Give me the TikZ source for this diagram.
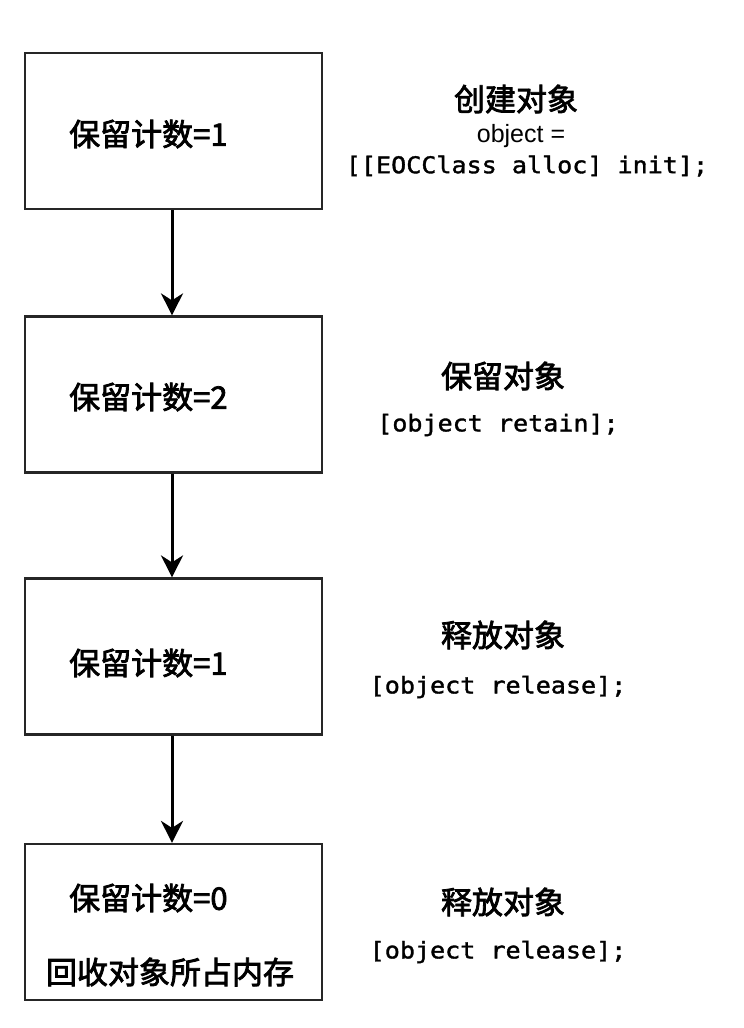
\documentclass[tikz,border=0pt]{standalone}
\usepackage{fontspec}
\usetikzlibrary{arrows.meta}
\newfontfamily\cjk[FakeBold=2.5]{Noto Sans CJK SC}
\newfontfamily\codefont[FakeStretch=1.09, FakeBold=1.5]{DejaVu Sans Mono}
\newfontfamily\sansfnt{Liberation Sans}
\begin{document}
\begin{tikzpicture}[x=1pt,y=-1pt,
  box/.style={draw=black!85, line width=2.2pt, fill=white, minimum width=297pt, minimum height=156pt, inner sep=0pt},
  boxtext/.style={inner sep=0pt, font=\cjk\fontsize{31}{31}\selectfont},
  headtext/.style={inner sep=0pt, font=\cjk\fontsize{31}{31}\selectfont},
  codetext/.style={inner sep=0pt, font=\codefont\fontsize{23}{23}\selectfont},
  sanstext/.style={inner sep=0pt, font=\sansfnt\fontsize{25}{25}\selectfont},
  flow/.style={line width=3pt, -{Stealth[length=22pt, width=22pt, inset=7pt]}}
]
\useasboundingbox (0,0) rectangle (744,1028);
% boxes
\node[box] (b1) at (173.5,131) {};
\node[box] (b2) at (173.5,394.5) {};
\node[box] (b3) at (173.5,656.5) {};
\node[box] (b4) at (173.5,922) {};
% box texts
\node[boxtext, anchor=west] (t1) at (69,134) {保留计数=1};
\node[boxtext, anchor=west] (t2) at (69,397) {保留计数=2};
\node[boxtext, anchor=west] (t3) at (69,663) {保留计数=1};
\node[boxtext, anchor=west] (t4) at (69,898) {保留计数=0};
\node[boxtext] (t5) at (170,972) {回收对象所占内存};
% right texts
\node[headtext] (r1a) at (516,99) {创建对象};
\node[sanstext] (r1b) at (521,136) {object =};
\node[codetext] (r1c) at (527,166) {[[EOCClass alloc] init];};
\node[headtext] (r2a) at (503,376) {保留对象};
\node[codetext] (r2b) at (498,425) {[object retain];};
\node[headtext] (r3a) at (503,635) {释放对象};
\node[codetext] (r3b) at (498,687) {[object release];};
\node[headtext] (r4a) at (503,902) {释放对象};
\node[codetext] (r4b) at (498,952) {[object release];};
% arrows
\draw[flow] (b1.south -| 172,0) -- (b2.north -| 172,0);
\draw[flow] (b2.south -| 172,0) -- (b3.north -| 172,0);
\draw[flow] (b3.south -| 172,0) -- (b4.north -| 172,0);
\end{tikzpicture}
\end{document}
